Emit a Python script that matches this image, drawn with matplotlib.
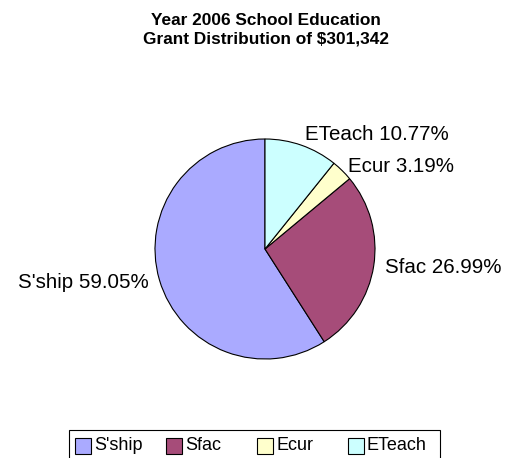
import matplotlib
matplotlib.use("Agg")
import matplotlib.pyplot as plt
from matplotlib.patches import Rectangle

categories = ["S'ship", "Sfac", "Ecur", "ETeach"]
values = [59.05, 26.99, 3.19, 10.77]
colors = ["#AAAAFF", "#A64C79", "#FFFFCC", "#CCFFFF"]
title = "Year 2006 School Education\nGrant Distribution of $301,342"

plt.rcParams['font.family'] = ['Liberation Sans', 'DejaVu Sans']

W, H = 509, 458
fig = plt.figure(figsize=(W / 100, H / 100), dpi=100)
fig.patch.set_facecolor("white")

cx, cy, r = 265, 249, 110
ax = fig.add_axes([(cx - r) / W, (H - cy - r) / H, 2 * r / W, 2 * r / H])

labels = [f"{c} {v:.2f}%" for c, v in zip(categories, values)]
wedges, texts = ax.pie(values, labels=labels, colors=colors, startangle=90,
                       counterclock=True, labeldistance=1.1,
                       wedgeprops=dict(edgecolor="black", linewidth=0.8),
                       textprops=dict(fontsize=14.8, color="black"))
ax.set_xlim(-1, 1)
ax.set_ylim(-1, 1)
ax.set_aspect("equal")
# nudge Ecur label slightly down as in the reference
x, y = texts[2].get_position()
texts[2].set_position((x - 0.02, y - 0.03))

fig.text(266 / W, 1 - 30 / H, title, ha="center", va="center",
         fontsize=12.4, fontweight="bold", linespacing=1.3)

# legend drawn as a framed row of equally spaced entries
fig.patches.append(Rectangle((69 / W, -0.05), (440 - 69) / W, 0.05 + (H - 430) / H,
                             transform=fig.transFigure, facecolor="white",
                             edgecolor="black", linewidth=0.8))
box_w, step, x0, yc = 16, 91, 75, 446
for i, (cat, col) in enumerate(zip(categories, colors)):
    xl = x0 + i * step
    fig.patches.append(Rectangle((xl / W, (H - yc - box_w / 2) / H), box_w / W, box_w / H,
                                 transform=fig.transFigure, facecolor=col,
                                 edgecolor="black", linewidth=0.8))
    fig.text((xl + box_w + 3) / W, (H - yc) / H, cat, ha="left", va="center",
             fontsize=13)

fig.savefig("out.png", dpi=100, facecolor="white")
